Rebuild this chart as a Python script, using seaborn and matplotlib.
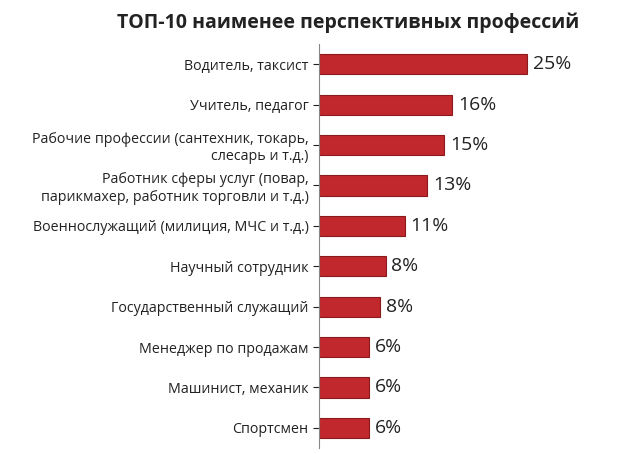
import matplotlib
matplotlib.use("Agg")
import matplotlib.pyplot as plt
import seaborn as sns
import pandas as pd

categories = ["Водитель, таксист", "Учитель, педагог",
              "Рабочие профессии (сантехник, токарь,\nслесарь и т.д.)",
              "Работник сферы услуг (повар,\nпарикмахер, работник торговли и т.д.)",
              "Военнослужащий (милиция, МЧС и т.д.)", "Научный сотрудник",
              "Государственный служащий", "Менеджер по продажам",
              "Машинист, механик", "Спортсмен"]
values = [25, 16, 15, 13, 10.3, 8, 7.3, 6, 6, 6]
labels = ["25%", "16%", "15%", "13%", "11%", "8%", "8%", "6%", "6%", "6%"]

df = pd.DataFrame({"cat": categories, "val": values})
plt.rcParams["font.family"] = "Open Sans"
fig = plt.figure(figsize=(6.42, 4.54), dpi=100)
ax = fig.add_axes([0.497, 0.013, 0.389, 0.89])
sns.barplot(data=df, y="cat", x="val", orient="h", color="#c0282d", width=0.5,
            edgecolor="#8b1a1d", linewidth=0.8, saturation=1, ax=ax)
ax.set_xlim(0, 30)
for i, (v, l) in enumerate(zip(values, labels)):
    ax.text(v + 0.7, i, l, va="center", ha="left", fontsize=14, color="#222222")
ax.set_xlabel(""); ax.set_ylabel("")
ax.set_xticks([])
ax.tick_params(axis="y", length=4, labelsize=10.3, colors="#222222")
for s in ["top", "right", "bottom"]:
    ax.spines[s].set_visible(False)
ax.spines["left"].set_color("#888888")
fig.text(0.542, 0.95, "ТОП-10 наименее перспективных профессий", ha="center",
         va="center", fontsize=14, fontweight="bold", color="#222222")
fig.savefig("out.png", dpi=100)
